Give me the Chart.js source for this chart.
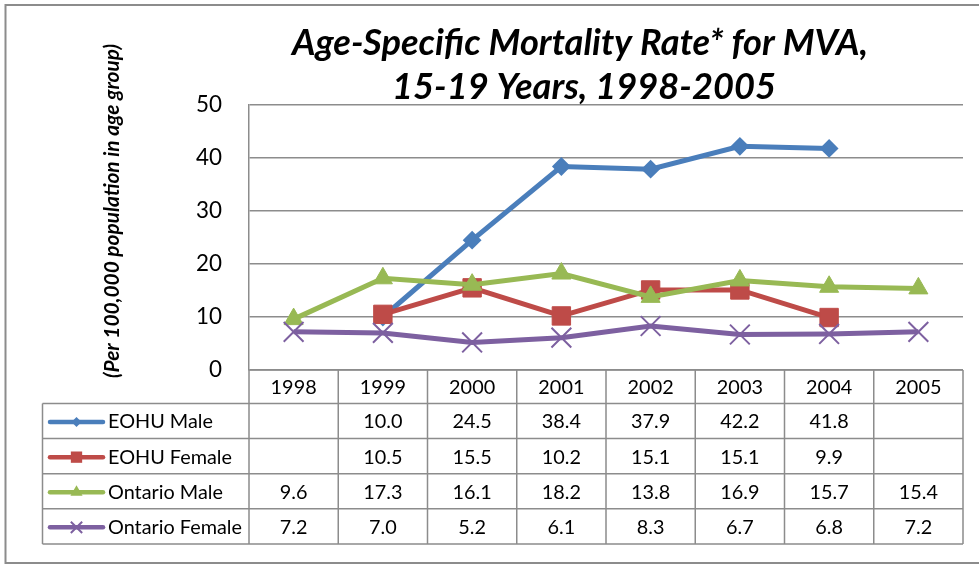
<!DOCTYPE html>
<html>
<head>
<meta charset="utf-8">
<script src="https://cdn.jsdelivr.net/npm/chart.js@4.4.1/dist/chart.umd.min.js"></script>
<style>
  html, body { margin: 0; padding: 0; background: #ffffff; }
  #wrap { width: 979px; height: 567px; position: relative; }
</style>
</head>
<body>
<div id="wrap"><canvas id="c" width="979" height="567"></canvas></div>
<script>
// ---------- data ----------
const years = ['1998', '1999', '2000', '2001', '2002', '2003', '2004', '2005'];
const eohuMale = [null, 10.0, 24.5, 38.4, 37.9, 42.2, 41.8, null];
const eohuFemale = [null, 10.5, 15.5, 10.2, 15.1, 15.1, 9.9, null];
const ontarioMale = [9.6, 17.3, 16.1, 18.2, 13.8, 16.9, 15.7, 15.4];
const ontarioFemale = [7.2, 7.0, 5.2, 6.1, 8.3, 6.7, 6.8, 7.2];
const seriesNames = ['EOHU Male', 'EOHU Female', 'Ontario Male', 'Ontario Female'];
const yTickValues = [0, 10, 20, 30, 40, 50];
const chartTitle = ['Age-Specific Mortality Rate* for MVA,', '15-19 Years, 1998-2005'];
const yTitle = '(Per 100,000 population in age group)';

// ---------- styles ----------
const FAMILY = 'Lato, "Liberation Sans", sans-serif';
const GRID = '#8c8c8c';
const seriesStyles = [
  { color: '#4A7EBB', point: 'rectRot', r: 8, legendR: 5, bw: 2 },
  { color: '#BE4B48', point: 'rect', r: 13, legendR: 8, bw: 1 },
  { color: '#98B954', point: 'triangle', r: 11, legendR: 7, bw: 1 },
  { color: '#7D60A0', point: 'crossRot', r: 14, legendR: 8, bw: 2 }
];
const seriesData = [eohuMale, eohuFemale, ontarioMale, ontarioFemale];

const measureCtx = document.createElement('canvas').getContext('2d');
function fitSize(text, style, target) {
  measureCtx.font = style + ' 100px ' + FAMILY;
  return 100 * target / measureCtx.measureText(text).width;
}
const titleSize = fitSize(chartTitle[0], 'italic bold', 576);
const yTitleSize = fitSize(yTitle, 'italic bold', 334);
const tableSize = fitSize('Ontario Female', 'normal', 134);
const tickSize = fitSize('50', 'normal', 26);

function drawMarker(ctx, style, x, y, r, color) {
  ctx.save();
  ctx.fillStyle = color; ctx.strokeStyle = color; ctx.lineWidth = 1.5;
  ctx.beginPath();
  if (style === 'rectRot') {
    ctx.moveTo(x - r, y); ctx.lineTo(x, y - r); ctx.lineTo(x + r, y); ctx.lineTo(x, y + r); ctx.closePath();
    ctx.fill();
  } else if (style === 'rect') {
    const s = r * Math.SQRT1_2;
    ctx.rect(x - s, y - s, 2 * s, 2 * s); ctx.fill();
  } else if (style === 'triangle') {
    ctx.moveTo(x, y - r); ctx.lineTo(x + r * 0.866, y + r * 0.5); ctx.lineTo(x - r * 0.866, y + r * 0.5); ctx.closePath();
    ctx.fill();
  } else {
    const d = r * Math.SQRT1_2;
    ctx.lineWidth = 2;
    ctx.moveTo(x - d, y - d); ctx.lineTo(x + d, y + d);
    ctx.moveTo(x + d, y - d); ctx.lineTo(x - d, y + d);
    ctx.stroke();
  }
  ctx.restore();
}

const decorPlugin = {
  id: 'decor',
  beforeDraw(chart) {
    const ctx = chart.ctx;
    ctx.save();
    ctx.fillStyle = '#ffffff';
    ctx.fillRect(0, 0, chart.width, chart.height);
    // outer frame
    ctx.strokeStyle = '#8c8c8c';
    ctx.lineWidth = 2;
    ctx.strokeRect(5.5, 5, 990, 558);
    ctx.restore();
  },
  afterDraw(chart) {
    const ctx = chart.ctx;
    const xs = chart.scales.x;
    const area = chart.chartArea;
    const n = years.length;
    const colW = (area.right - area.left) / n;
    const headTop = area.bottom;
    const headBottom = headTop + 33.5;
    const rowH = 35.1;
    const tableBottom = headBottom + rowH * seriesNames.length;
    const legendLeft = 42.5;

    ctx.save();
    // title
    ctx.fillStyle = '#000';
    ctx.textAlign = 'center';
    ctx.textBaseline = 'alphabetic';
    ctx.font = 'italic bold ' + titleSize.toFixed(2) + 'px ' + FAMILY;
    ctx.fillText(chartTitle[0], 580, 55);
    ctx.fillText(chartTitle[1], 584, 99);

    // y title
    ctx.save();
    ctx.translate(112, 211);
    ctx.rotate(-Math.PI / 2);
    ctx.textBaseline = 'middle';
    ctx.font = 'italic bold ' + yTitleSize.toFixed(2) + 'px ' + FAMILY;
    ctx.fillText(yTitle, 0, 0);
    ctx.restore();

    // table grid
    ctx.strokeStyle = GRID;
    ctx.lineWidth = 1.5;
    ctx.beginPath();
    for (let i = 0; i <= n; i++) {
      const x = area.left + i * colW;
      ctx.moveTo(x, headTop); ctx.lineTo(x, tableBottom);
    }
    ctx.moveTo(legendLeft, headBottom); ctx.lineTo(legendLeft, tableBottom);
    ctx.moveTo(area.left, headTop); ctx.lineTo(area.right, headTop);
    for (let r = 0; r <= seriesNames.length; r++) {
      const y = headBottom + r * rowH;
      ctx.moveTo(legendLeft, y); ctx.lineTo(area.right, y);
    }
    ctx.stroke();

    // header years
    ctx.font = tableSize.toFixed(2) + 'px ' + FAMILY;
    ctx.textAlign = 'center';
    ctx.textBaseline = 'middle';
    ctx.fillStyle = '#000';
    years.forEach((yr, i) => {
      ctx.fillText(yr, xs.getPixelForValue(i), (headTop + headBottom) / 2 + 1);
    });

    // rows
    seriesNames.forEach((name, r) => {
      const cy = headBottom + r * rowH + rowH / 2 + 1;
      const st = seriesStyles[r];
      // legend key
      ctx.save();
      ctx.strokeStyle = st.color;
      ctx.lineWidth = 4.5;
      ctx.lineCap = 'round';
      ctx.beginPath();
      ctx.moveTo(50, cy); ctx.lineTo(103, cy);
      ctx.stroke();
      ctx.restore();
      drawMarker(ctx, st.point, 76.5, cy, st.legendR, st.color);
      ctx.textAlign = 'left';
      ctx.fillStyle = '#000';
      ctx.fillText(name, 108, cy);
      ctx.textAlign = 'center';
      seriesData[r].forEach((v, i) => {
        if (v === null) return;
        ctx.fillText(v.toFixed(1), xs.getPixelForValue(i), cy);
      });
    });
    ctx.restore();
  }
};

const datasets = seriesNames.map((name, i) => ({
  label: name,
  data: seriesData[i],
  borderColor: seriesStyles[i].color,
  backgroundColor: seriesStyles[i].color,
  borderWidth: 5,
  pointStyle: seriesStyles[i].point,
  pointRadius: seriesStyles[i].r,
  pointBorderWidth: seriesStyles[i].bw,
  pointBackgroundColor: seriesStyles[i].color,
  pointBorderColor: seriesStyles[i].color,
  tension: 0,
  fill: false,
  order: seriesNames.length - i
}));

new Chart(document.getElementById('c'), {
  type: 'line',
  data: { labels: years, datasets },
  options: {
    responsive: false,
    devicePixelRatio: 1,
    animation: false,
    events: [],
    layout: { padding: { left: 0, right: 12, top: 105, bottom: 197 } },
    plugins: { legend: { display: false }, title: { display: false }, tooltip: { enabled: false } },
    scales: {
      x: { type: 'category', offset: true, display: false },
      y: {
        min: 0, max: 50,
        afterFit(s) { s.width = 249; },
        afterBuildTicks(s) { s.ticks = yTickValues.map(v => ({ value: v })); },
        ticks: { color: '#000', padding: 27, font: { family: FAMILY, size: tickSize } },
        grid: { color: GRID, lineWidth: 1.5, drawTicks: false },
        border: { display: true, color: GRID, width: 1.5 }
      }
    }
  },
  plugins: [decorPlugin]
});
</script>
</body>
</html>
